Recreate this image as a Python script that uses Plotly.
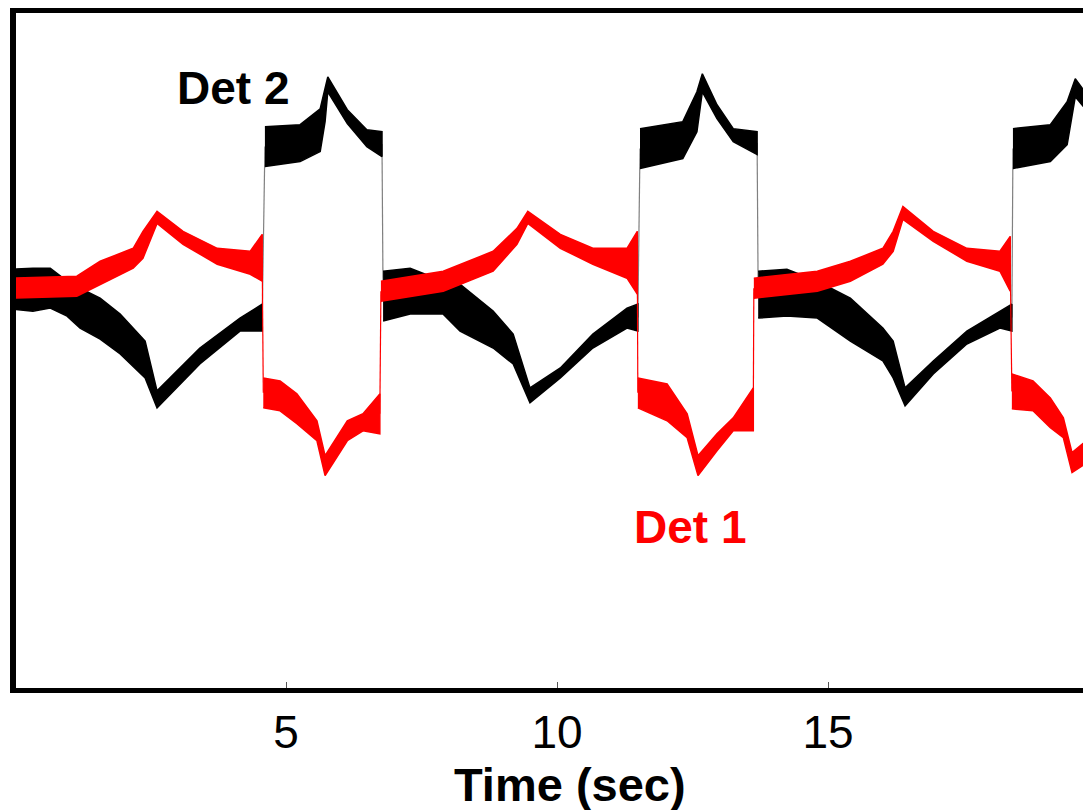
import plotly.graph_objects as go

# time axis in seconds; signal in arbitrary units
# each detector trace is noisy, so it is stored as upper / lower edge of the band,
# split into the segments between the switching steps

# Det 2 (black)
det2_t = [
    [-0.05, 0.33, 0.65, 0.96, 1.20, 1.57, 1.94, 2.40, 2.62, 3.41, 4.15, 4.56],
    [4.61, 5.26, 5.63, 5.72, 5.77, 6.13, 6.49, 6.77],
    [6.79, 7.29, 7.90, 8.21, 8.82, 9.19, 9.50, 10.06, 10.66, 11.29, 11.49],
    [11.53, 12.32, 12.58, 12.68, 12.95, 13.25, 13.69],
    [13.71, 14.24, 14.80, 15.41, 16.01, 16.20, 16.42, 16.94, 17.56, 18.17, 18.39],
    [18.41, 19.10, 19.41, 19.56, 19.83, 20.02],
]
det2_hi = [
    [0.22, 0.23, 0.23, 0.10, 0.03, -0.07, -0.23, -0.50, -1.00, -0.57, -0.27, -0.13],
    [1.65, 1.67, 1.83, 2.05, 2.15, 1.82, 1.62, 1.60],
    [0.20, 0.23, 0.10, 0.07, -0.20, -0.43, -0.97, -0.77, -0.43, -0.17, -0.13],
    [1.63, 1.70, 2.00, 2.18, 1.87, 1.63, 1.60],
    [0.20, 0.22, 0.10, -0.07, -0.37, -0.50, -0.97, -0.70, -0.40, -0.20, -0.13],
    [1.63, 1.67, 1.90, 2.13, 1.93, 1.80],
]
det2_lo = [
    [-0.18, -0.20, -0.17, -0.25, -0.37, -0.48, -0.63, -0.87, -1.17, -0.73, -0.40, -0.40],
    [1.25, 1.30, 1.40, 1.70, 2.00, 1.68, 1.45, 1.35],
    [-0.30, -0.23, -0.23, -0.40, -0.57, -0.73, -1.12, -0.87, -0.57, -0.37, -0.40],
    [1.23, 1.33, 1.60, 2.00, 1.73, 1.50, 1.37],
    [-0.27, -0.25, -0.27, -0.50, -0.70, -0.87, -1.15, -0.83, -0.53, -0.37, -0.40],
    [1.23, 1.30, 1.47, 1.95, 1.77, 1.65],
]

# Det 1 (red)
det1_t = [
    [-0.05, 1.14, 1.57, 2.18, 2.36, 2.62, 3.10, 3.73, 4.34, 4.56],
    [4.58, 4.89, 5.20, 5.57, 5.72, 6.13, 6.42, 6.73],
    [6.75, 7.90, 8.82, 9.26, 9.46, 10.06, 10.66, 11.29, 11.48],
    [11.49, 12.03, 12.40, 12.60, 12.95, 13.25, 13.62],
    [13.63, 14.80, 15.41, 16.01, 16.20, 16.38, 16.94, 17.56, 18.17, 18.36],
    [18.39, 18.78, 19.10, 19.34, 19.50, 19.83, 20.02],
]
det1_hi = [
    [0.13, 0.15, 0.30, 0.43, 0.60, 0.80, 0.60, 0.43, 0.40, 0.57],
    [-0.87, -0.90, -1.03, -1.30, -1.65, -1.30, -1.23, -1.03],
    [0.10, 0.20, 0.40, 0.63, 0.80, 0.57, 0.43, 0.43, 0.60],
    [-0.87, -0.93, -1.23, -1.65, -1.43, -1.27, -0.97],
    [0.13, 0.20, 0.30, 0.43, 0.60, 0.85, 0.60, 0.43, 0.40, 0.55],
    [-0.83, -0.90, -1.07, -1.27, -1.62, -1.47, -1.40],
]
det1_lo = [
    [-0.07, -0.05, 0.07, 0.23, 0.33, 0.68, 0.47, 0.27, 0.17, 0.10],
    [-1.17, -1.20, -1.33, -1.50, -1.85, -1.50, -1.40, -1.43],
    [-0.10, 0.00, 0.20, 0.47, 0.68, 0.43, 0.27, 0.13, -0.03],
    [-1.17, -1.30, -1.47, -1.85, -1.60, -1.40, -1.40],
    [-0.07, 0.00, 0.10, 0.27, 0.40, 0.72, 0.50, 0.30, 0.20, 0.00],
    [-1.18, -1.20, -1.37, -1.47, -1.82, -1.70, -1.60],
]

x_ticks = [5, 10, 15, 20]

FONT = "Arial, Liberation Sans, sans-serif"

fig = go.Figure()


def add_trace_bands(ts, his, los, color, step_color):
    # thin vertical steps between segments
    for i in range(len(ts) - 1):
        y_end = (his[i][-1] + los[i][-1]) / 2
        y_next = (his[i + 1][0] + los[i + 1][0]) / 2
        fig.add_trace(go.Scatter(x=[ts[i][-1], ts[i + 1][0]], y=[y_end, y_next],
                                 mode="lines", line=dict(color=step_color, width=1.2),
                                 showlegend=False, hoverinfo="skip"))
    # noisy band as filled polygon
    for t, hi, lo in zip(ts, his, los):
        fig.add_trace(go.Scatter(x=t + t[::-1], y=hi + lo[::-1], mode="lines",
                                 fill="toself", fillcolor=color,
                                 line=dict(color=color, width=1.5),
                                 showlegend=False, hoverinfo="skip"))


add_trace_bands(det2_t, det2_hi, det2_lo, "black", "#808080")
add_trace_bands(det1_t, det1_hi, det1_lo, "#ff0000", "#ff0000")

fig.add_annotation(x=4.02, y=2.04, text="<b>Det 2</b>", showarrow=False,
                   font=dict(family=FONT, size=46, color="black"))
fig.add_annotation(x=12.45, y=-2.37, text="<b>Det 1</b>", showarrow=False,
                   font=dict(family=FONT, size=46, color="#ff0000"))
fig.add_annotation(x=10.24, xref="x", y=-0.143, yref="paper", yanchor="middle",
                   text="<b>Time (sec)</b>", showarrow=False,
                   font=dict(family=FONT, size=47, color="black"))

# page body has an 8px margin, so the figure is sized to what is left of the window
fig.update_layout(
    width=1083, height=802,
    margin=dict(l=8, r=0, t=3, b=122),
    paper_bgcolor="white", plot_bgcolor="white",
    font=dict(family=FONT, color="black"),
)
fig.update_xaxes(range=[0.018, 19.85], tickvals=x_ticks, ticks="inside", ticklen=6,
                 tickwidth=1, tickcolor="#555555", showgrid=False, zeroline=False,
                 showline=True, linewidth=5, linecolor="black", mirror=True,
                 tickfont=dict(family=FONT, size=46, color="black"),
                 ticklabelstandoff=0)
fig.update_yaxes(range=[-3.98, 2.79], showticklabels=False, ticks="", showgrid=False,
                 zeroline=False, showline=True, linewidth=6, linecolor="black")

fig.write_html("out.html")
